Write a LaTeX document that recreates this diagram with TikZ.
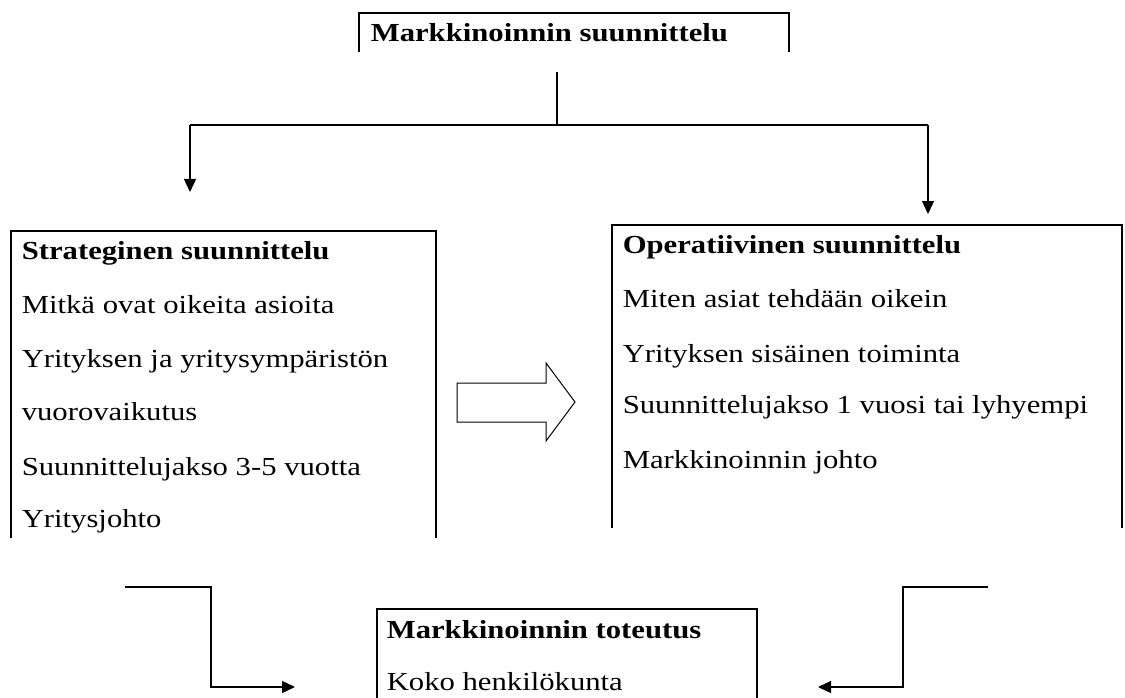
\documentclass[tikz,border=0pt]{standalone}
\usepackage{fontspec}
\setmainfont{Liberation Serif}[FakeStretch=1.18]
\usetikzlibrary{arrows.meta}
\begin{document}
\begin{tikzpicture}[x=1pt,y=-1pt,
  line width=1.6pt,
  txt/.style={anchor=base west,inner sep=0pt,font=\fontsize{26}{26}\selectfont},
  hd/.style={txt,font=\fontsize{26}{26}\selectfont\bfseries},
  conn/.style={line width=1.4pt,-{Triangle[length=13pt,width=12pt]}},
  plain/.style={line width=1.4pt},
  frame/.style={inner sep=0pt,outer sep=0pt,anchor=north west}]
\useasboundingbox (0,0) rectangle (1125,698);
% top box
\node[frame,minimum width=430pt,minimum height=39pt] (top) at (359,13) {};
\draw (top.south west) -- (top.north west) -- (top.north east) -- (top.south east);
\node[hd] (toptxt) at (370,42) {Markkinoinnin suunnittelu};
% left box
\node[frame,minimum width=425pt,minimum height=307pt] (lb) at (11,231) {};
\draw (lb.south west) -- (lb.north west) -- (lb.north east) -- (lb.south east);
\node[hd] (l1) at (21,259) {Strateginen suunnittelu};
\node[txt] (l2) at (21,313) {Mitkä ovat oikeita asioita};
\node[txt] (l3) at (21,367) {Yrityksen ja yritysympäristön};
\node[txt] (l4) at (21,420) {vuorovaikutus};
\node[txt] (l5) at (21,475) {Suunnittelujakso 3-5 vuotta};
\node[txt] (l6) at (21,527) {Yritysjohto};
% right box
\node[frame,minimum width=510pt,minimum height=303pt] (rb) at (612,225) {};
\draw (rb.south west) -- (rb.north west) -- (rb.north east) -- (rb.south east);
\node[hd] (r1) at (622,253) {Operatiivinen suunnittelu};
\node[txt] (r2) at (622,307) {Miten asiat tehdään oikein};
\node[txt] (r3) at (622,362) {Yrityksen sisäinen toiminta};
\node[txt] (r4) at (622,413) {Suunnittelujakso 1 vuosi tai lyhyempi};
\node[txt] (r5) at (622,468) {Markkinoinnin johto};
% bottom box
\node[frame,minimum width=380pt,minimum height=89pt] (bb) at (377,609) {};
\draw (bb.south west) -- (bb.north west) -- (bb.north east) -- (bb.south east);
\node[hd] (b1) at (386,638) {Markkinoinnin toteutus};
\node[txt] (b2) at (386,690) {Koko henkilökunta};
% top connectors
\coordinate (v0) at (557,72);
\coordinate (v1) at (557,125);
\coordinate (hl) at (190,125);
\coordinate (hr) at (928,125);
\coordinate (al) at (190,192);
\coordinate (ar) at (928,214);
\draw[plain] (v0) -- (v1);
\draw[plain] (hl) -- (hr);
\draw[conn] (hl) -- (al);
\draw[conn] (hr) -- (ar);
% block arrow
\draw[line width=1pt] (457,383) -- (546,383) -- (546,363) -- (575,402) -- (546,441) -- (546,422) -- (457,422) -- cycle;
% bottom connectors
\coordinate (bl0) at (125,587);
\coordinate (bl1) at (211,587);
\coordinate (bl2) at (211,687);
\coordinate (bl3) at (295,687);
\draw[conn] (bl0) -- (bl1) -- (bl2) -- (bl3);
\coordinate (br0) at (988,587);
\coordinate (br1) at (903,587);
\coordinate (br2) at (903,687);
\coordinate (br3) at (818,687);
\draw[conn] (br0) -- (br1) -- (br2) -- (br3);
\end{tikzpicture}
\end{document}
